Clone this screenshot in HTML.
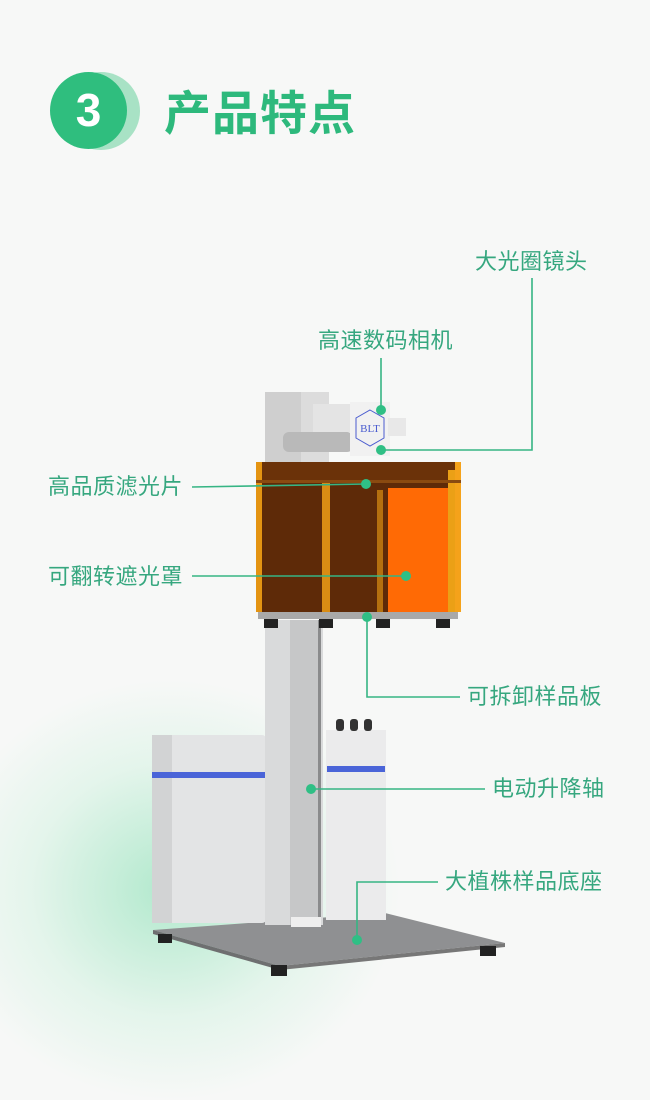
<!DOCTYPE html>
<html><head><meta charset="utf-8"><style>
html,body{margin:0;padding:0}
body{width:650px;height:1100px;position:relative;overflow:hidden;background:#f7f8f7;font-family:"Liberation Sans","Noto Sans CJK SC",sans-serif}
.glow{position:absolute;left:-60px;top:680px;width:460px;height:420px;border-radius:50%;background:radial-gradient(closest-side,rgba(120,220,170,.55),rgba(170,235,200,.25) 60%,rgba(247,248,247,0))}
.lab{position:absolute;color:#36a77f;font-size:22px;line-height:1;white-space:nowrap;letter-spacing:0.5px}
svg{position:absolute;left:0;top:0}
</style></head><body>
<div class="glow"></div>
<div style="position:absolute;left:62px;top:72px;width:78px;height:78px;border-radius:50%;background:#a8e2c5"></div>
<div style="position:absolute;left:50px;top:72px;width:77px;height:77px;border-radius:50%;background:#2fbe7e;color:#fff;font-size:46px;font-weight:bold;text-align:center;line-height:77px">3</div>
<div style="position:absolute;left:164px;top:86px;color:#2db97c;font-size:47px;font-weight:bold;line-height:1;letter-spacing:1px;font-family:'Noto Sans CJK SC',sans-serif">产品特点</div>

<svg width="650" height="1100" viewBox="0 0 650 1100">
<!-- base -->
<polygon points="153,930 385,913 505,943 280,966" fill="#8f9092"/>
<polygon points="153,930 280,966 280,970 153,934" fill="#6e6f70"/>
<polygon points="280,966 505,943 505,947 280,970" fill="#777"/>
<rect x="158" y="934" width="14" height="9" fill="#222"/>
<rect x="271" y="965" width="16" height="11" fill="#222"/>
<rect x="480" y="946" width="16" height="10" fill="#222"/>
<!-- left box -->
<rect x="152" y="735" width="114" height="188" rx="4" fill="#e3e4e5"/>
<rect x="152" y="735" width="20" height="188" fill="#d2d3d4"/>
<rect x="152" y="772" width="114" height="6" fill="#4a64d8"/>
<!-- right box -->
<rect x="326" y="730" width="60" height="190" fill="#ebebec"/>
<rect x="327" y="766" width="58" height="6" fill="#4a64d8"/>
<rect x="336" y="719" width="8" height="12" rx="3" fill="#333"/>
<rect x="350" y="719" width="8" height="12" rx="3" fill="#333"/>
<rect x="364" y="719" width="8" height="12" rx="3" fill="#333"/>
<!-- column -->
<rect x="265" y="620" width="58" height="305" fill="#d9dadb"/>
<rect x="290" y="620" width="30" height="305" fill="#c6c7c8"/>
<rect x="318" y="620" width="3" height="305" fill="#8a8b8c"/>
<rect x="291" y="917" width="30" height="10" fill="#eee"/>
<!-- camera -->
<rect x="265" y="392" width="64" height="70" fill="#dcdcdc"/>
<rect x="265" y="392" width="36" height="70" fill="#cfcfcf"/>
<rect x="283" y="432" width="70" height="20" rx="6" fill="#b9b9b9"/>
<rect x="313" y="404" width="40" height="28" fill="#e4e4e4"/>
<rect x="350" y="402" width="40" height="54" fill="#f1f1f1"/>
<polygon points="370,410 384,418 384,438 370,446 356,438 356,418" fill="none" stroke="#4a5ccf" stroke-width="1"/>
<text x="370" y="432" font-family="Liberation Serif,serif" font-size="11" fill="#4a5ccf" text-anchor="middle">BLT</text>
<rect x="388" y="418" width="18" height="18" fill="#e8e8e8"/>
<!-- orange box -->
<rect x="256" y="462" width="205" height="150" fill="#5e2a08"/>
<rect x="256" y="462" width="205" height="20" fill="#6b3209"/>
<rect x="388" y="488" width="60" height="124" fill="#ff6a05"/>
<rect x="256" y="462" width="6" height="150" fill="#e49412"/>
<rect x="322" y="480" width="8" height="132" fill="#d98c14"/>
<rect x="377" y="490" width="6" height="122" fill="#b5700f"/>
<rect x="448" y="470" width="7" height="142" fill="#eba016"/>
<rect x="455" y="462" width="6" height="150" fill="#f5a21a"/>
<rect x="256" y="480" width="205" height="3" fill="#8a4a10"/>
<rect x="258" y="612" width="200" height="7" fill="#a9a9a9"/>
<rect x="264" y="619" width="14" height="9" fill="#222"/>
<rect x="319" y="619" width="14" height="9" fill="#222"/>
<rect x="376" y="619" width="14" height="9" fill="#222"/>
<rect x="436" y="619" width="14" height="9" fill="#222"/>
<!-- connectors -->
<g stroke="#36b584" stroke-width="1.6" fill="none">
<polyline points="532,278 532,450 381,450"/>
<line x1="381" y1="358" x2="381" y2="410"/>
<line x1="192" y1="487" x2="366" y2="484"/>
<line x1="192" y1="576" x2="406" y2="576"/>
<polyline points="460,697 367,697 367,617"/>
<line x1="485" y1="789" x2="311" y2="789"/>
<polyline points="438,882 357,882 357,940"/>
</g>
<g fill="#2fbf85">
<circle cx="381" cy="410" r="5"/><circle cx="381" cy="450" r="5"/>
<circle cx="366" cy="484" r="5"/><circle cx="406" cy="576" r="5"/>
<circle cx="367" cy="617" r="5"/><circle cx="311" cy="789" r="5"/>
<circle cx="357" cy="940" r="5"/>
</g>
</svg>

<div class="lab" style="left:475px;top:251px">大光圈镜头</div>
<div class="lab" style="left:318px;top:330px">高速数码相机</div>
<div class="lab" style="left:48px;top:476px">高品质滤光片</div>
<div class="lab" style="left:48px;top:566px">可翻转遮光罩</div>
<div class="lab" style="left:467px;top:686px">可拆卸样品板</div>
<div class="lab" style="left:492px;top:778px">电动升降轴</div>
<div class="lab" style="left:445px;top:871px">大植株样品底座</div>
</body></html>
